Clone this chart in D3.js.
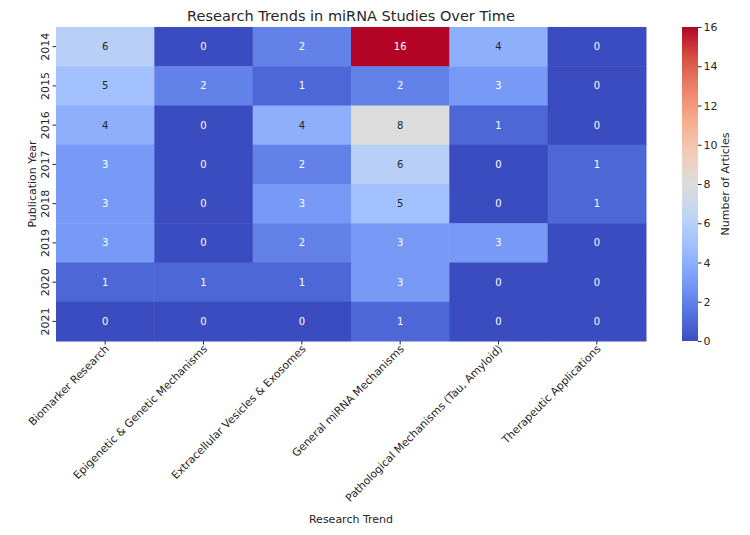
<!DOCTYPE html>
<html>
<head>
<meta charset="utf-8">
<script src="https://cdn.jsdelivr.net/npm/d3@7"></script>
<style>
  body { margin: 0; background: #fff; }
  svg text { font-family: "DejaVu Sans", sans-serif; fill: #262626; }
</style>
</head>
<body>
<div id="chart"></div>
<script>
// data
const years = ["2014", "2015", "2016", "2017", "2018", "2019", "2020", "2021"];
const trends = [
    "Biomarker Research",
    "Epigenetic & Genetic Mechanisms",
    "Extracellular Vesicles & Exosomes",
    "General miRNA Mechanisms",
    "Pathological Mechanisms (Tau, Amyloid)",
    "Therapeutic Applications"
];
const counts = [
    [6, 0, 2, 16, 4, 0],
    [5, 2, 1, 2, 3, 0],
    [4, 0, 4, 8, 1, 0],
    [3, 0, 2, 6, 0, 1],
    [3, 0, 3, 5, 0, 1],
    [3, 0, 2, 3, 3, 0],
    [1, 1, 1, 3, 0, 0],
    [0, 0, 0, 1, 0, 0]
];
const colorTicks = [0, 2, 4, 6, 8, 10, 12, 14, 16];

// coolwarm approximation
const coolwarm = d3.piecewise(d3.interpolateRgb, [
    "#3b4cc0", "#5977e3", "#7b9ff9", "#9ebeff", "#c0d4f5", "#dddcdc",
    "#f2cbb7", "#f7ac8e", "#ee8468", "#d65244", "#b40426"
]);

const W = 750, H = 535;
const plot = { left: 56, top: 27, right: 646, bottom: 341 };

const svg = d3.select('#chart').append('svg')
    .attr('width', W)
    .attr('height', H);

const x = d3.scaleBand().domain(trends).range([plot.left, plot.right]);
const y = d3.scaleBand().domain(years).range([plot.top, plot.bottom]);
const color = d3.scaleSequential(coolwarm).domain([0, 16]);

const cells = [];
counts.forEach((row, i) => row.forEach((v, j) => cells.push({ year: years[i], trend: trends[j], value: v })));

// relative luminance, same rule as seaborn uses for annotation colour
function luminance(c) {
    const lin = v => {
        v = v / 255;
        return v <= 0.03928 ? v / 12.92 : Math.pow((v + 0.055) / 1.055, 2.4);
    };
    return 0.2126 * lin(c.r) + 0.7152 * lin(c.g) + 0.0722 * lin(c.b);
}

svg.append('g').selectAll('rect')
    .data(cells)
    .enter()
    .append('rect')
    .attr('x', d => x(d.trend))
    .attr('y', d => y(d.year))
    .attr('width', x.bandwidth() + 0.5)
    .attr('height', y.bandwidth() + 0.5)
    .attr('fill', d => color(d.value));

svg.append('g').selectAll('text')
    .data(cells)
    .enter()
    .append('text')
    .attr('x', d => x(d.trend) + x.bandwidth() / 2)
    .attr('y', d => y(d.year) + y.bandwidth() / 2)
    .attr('text-anchor', 'middle')
    .attr('dominant-baseline', 'central')
    .style('font-size', '10px')
    .style('fill', d => luminance(d3.rgb(color(d.value))) > 0.408 ? '#262626' : '#ffffff')
    .text(d => d.value);

// x axis
const xAxis = svg.append('g')
    .attr('transform', 'translate(0,' + plot.bottom + ')')
    .call(d3.axisBottom(x).tickSize(3.5).tickPadding(3));
xAxis.select('.domain').remove();
xAxis.selectAll('line').attr('stroke', '#262626');
xAxis.selectAll('text')
    .style('font-size', '10.8px')
    .attr('text-anchor', 'end')
    .attr('dy', null)
    .attr('transform', 'translate(1,5) rotate(-45)')
    .attr('x', 0)
    .attr('y', 5);

// y axis
const yAxis = svg.append('g')
    .attr('transform', 'translate(' + plot.left + ',0)')
    .call(d3.axisLeft(y).tickSize(3.5).tickPadding(3));
yAxis.select('.domain').remove();
yAxis.selectAll('line').attr('stroke', '#262626');
yAxis.selectAll('text')
    .style('font-size', '11px')
    .attr('text-anchor', 'middle')
    .attr('dy', null)
    .attr('dominant-baseline', 'auto')
    .attr('x', null)
    .attr('transform', 'translate(-7,0) rotate(-90)');

// titles
svg.append('text')
    .attr('x', (plot.left + plot.right) / 2)
    .attr('y', 21)
    .attr('text-anchor', 'middle')
    .style('font-size', '14.5px')
    .text('Research Trends in miRNA Studies Over Time');

svg.append('text')
    .attr('x', (plot.left + plot.right) / 2)
    .attr('y', 523)
    .attr('text-anchor', 'middle')
    .style('font-size', '11px')
    .text('Research Trend');

svg.append('text')
    .attr('transform', 'translate(36,' + ((plot.top + plot.bottom) / 2) + ') rotate(-90)')
    .attr('text-anchor', 'middle')
    .style('font-size', '11px')
    .text('Publication Year');

// colorbar
const cb = { x: 682, w: 16, top: 27, bottom: 341 };
const defs = svg.append('defs');
const grad = defs.append('linearGradient')
    .attr('id', 'cbgrad')
    .attr('x1', 0).attr('y1', 1).attr('x2', 0).attr('y2', 0);
d3.range(0, 1.0001, 0.05).forEach(t => {
    grad.append('stop').attr('offset', t).attr('stop-color', coolwarm(t));
});
svg.append('rect')
    .attr('x', cb.x)
    .attr('y', cb.top)
    .attr('width', cb.w)
    .attr('height', cb.bottom - cb.top)
    .attr('fill', 'url(#cbgrad)');

const cScale = d3.scaleLinear().domain([0, 16]).range([cb.bottom, cb.top]);
const cAxis = svg.append('g')
    .attr('transform', 'translate(' + (cb.x + cb.w) + ',0)')
    .call(d3.axisRight(cScale).tickValues(colorTicks).tickSize(3.5).tickPadding(2));
cAxis.select('.domain').remove();
cAxis.selectAll('line').attr('stroke', '#262626');
cAxis.selectAll('text').style('font-size', '11px');

svg.append('text')
    .attr('transform', 'translate(729,' + ((cb.top + cb.bottom) / 2) + ') rotate(-90)')
    .attr('text-anchor', 'middle')
    .style('font-size', '11px')
    .text('Number of Articles');
</script>
</body>
</html>
